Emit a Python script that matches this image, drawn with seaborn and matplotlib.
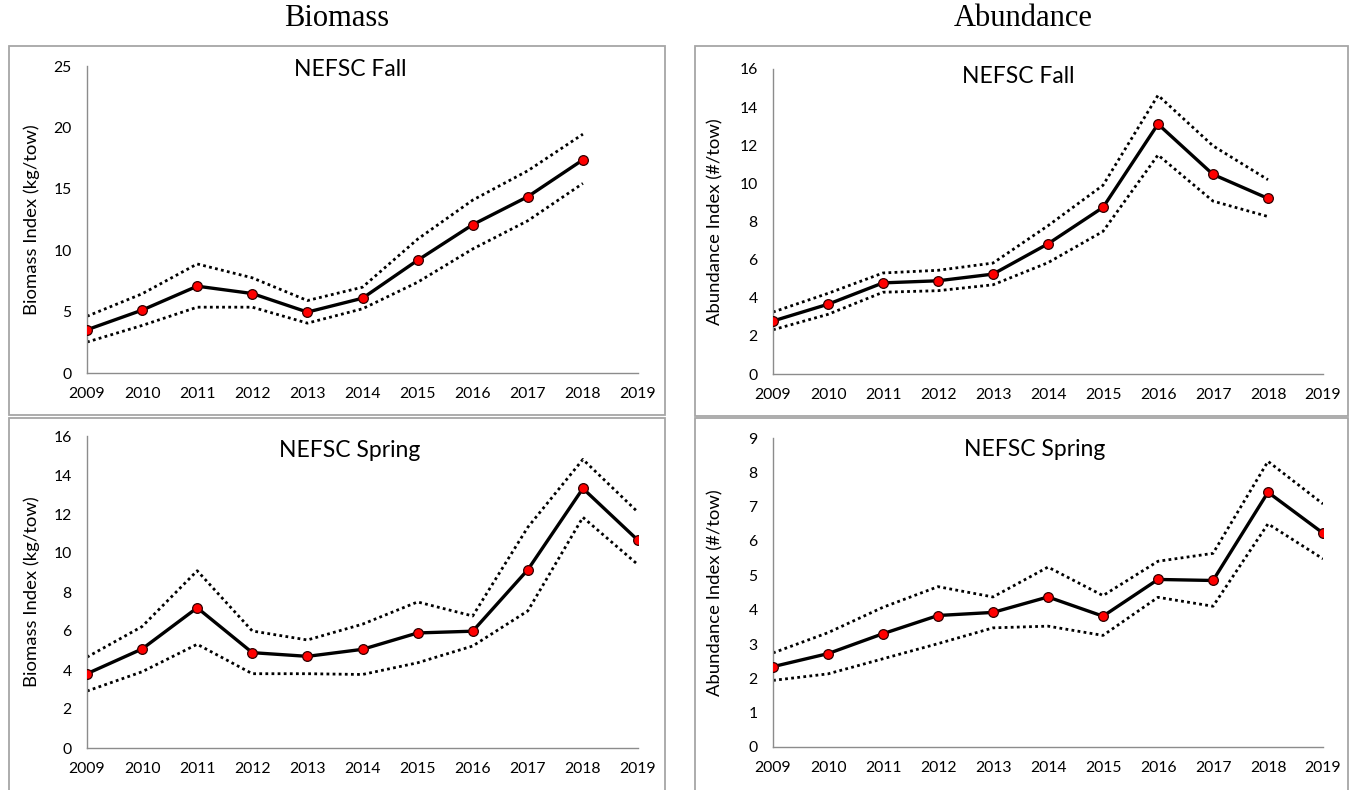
import matplotlib
matplotlib.use("Agg")
import matplotlib.pyplot as plt
import seaborn as sns
import pandas as pd
from matplotlib.patches import Rectangle

# ---------------- data ----------------
years_fall = [2009, 2010, 2011, 2012, 2013, 2014, 2015, 2016, 2017, 2018]
years_spring = [2009, 2010, 2011, 2012, 2013, 2014, 2015, 2016, 2017, 2018, 2019]

bio_fall = [3.52, 5.12, 7.07, 6.47, 4.96, 6.09, 9.18, 12.08, 14.36, 17.36]
bio_fall_hi = [4.62, 6.45, 8.88, 7.75, 5.90, 6.99, 10.90, 14.08, 16.47, 19.45]
bio_fall_lo = [2.52, 3.87, 5.36, 5.36, 4.06, 5.23, 7.39, 10.10, 12.40, 15.44]

abu_fall = [2.78, 3.66, 4.78, 4.89, 5.24, 6.83, 8.74, 13.11, 10.47, 9.21]
abu_fall_hi = [3.25, 4.23, 5.30, 5.44, 5.82, 7.78, 9.90, 14.62, 11.97, 10.19]
abu_fall_lo = [2.32, 3.13, 4.29, 4.37, 4.68, 5.84, 7.48, 11.49, 9.07, 8.26]

bio_spring = [3.81, 5.08, 7.19, 4.89, 4.70, 5.06, 5.90, 5.99, 9.14, 13.31, 10.65]
bio_spring_hi = [4.66, 6.23, 9.09, 6.00, 5.54, 6.35, 7.49, 6.77, 11.32, 14.80, 12.09]
bio_spring_lo = [2.92, 3.91, 5.32, 3.81, 3.81, 3.77, 4.37, 5.23, 7.03, 11.83, 9.40]

abu_spring = [2.34, 2.72, 3.30, 3.83, 3.92, 4.37, 3.81, 4.88, 4.85, 7.42, 6.23]
abu_spring_hi = [2.74, 3.33, 4.07, 4.67, 4.37, 5.24, 4.41, 5.41, 5.64, 8.32, 7.08]
abu_spring_lo = [1.94, 2.13, 2.57, 3.01, 3.47, 3.52, 3.25, 4.36, 4.10, 6.50, 5.48]

col_titles = ["Biomass", "Abundance"]
panel_titles = ["NEFSC Fall", "NEFSC Fall", "NEFSC Spring", "NEFSC Spring"]
ylabels = ["Biomass Index (kg/tow)", "Abundance Index (#/tow)",
           "Biomass Index (kg/tow)", "Abundance Index (#/tow)"]
xticks = list(range(2009, 2020))

# ---------------- style ----------------
sns.set_style("white")
plt.rcParams["font.family"] = ["Lato", "DejaVu Sans"]

W, H = 1357, 790
fig = plt.figure(figsize=(W / 100, H / 100), dpi=100)

def fx(px):
    return px / W

def fy(py):
    return 1 - py / H

# panel boxes (pixel coords: x0, y0, x1, y1)
boxes = [(9, 46, 665, 415), (695, 46, 1348, 416), (9, 418, 665, 800), (695, 418, 1348, 800)]
for (x0, y0, x1, y1) in boxes:
    fig.patches.append(Rectangle((fx(x0), fy(y1)), fx(x1 - x0), (y1 - y0) / H,
                                 transform=fig.transFigure, fill=False,
                                 edgecolor="#a6a6a6", linewidth=1.3, zorder=0))

# axes (pixel coords: left, top, right, bottom)
axes_px = [(87, 66, 638, 373), (773, 69, 1323, 374), (87, 436, 638, 748), (773, 438, 1323, 747)]
ylims = [(0, 25, 5), (0, 16, 2), (0, 16, 2), (0, 9, 1)]
title_pos = [(0.477, 0.987), (0.445, 0.977), (0.477, 0.955), (0.476, 0.964)]
series = [
    (years_fall, bio_fall, bio_fall_hi, bio_fall_lo),
    (years_fall, abu_fall, abu_fall_hi, abu_fall_lo),
    (years_spring, bio_spring, bio_spring_hi, bio_spring_lo),
    (years_spring, abu_spring, abu_spring_hi, abu_spring_lo),
]
ylabel_x = [-0.085, -0.091, -0.085, -0.091]

for i, (l, t, r, b) in enumerate(axes_px):
    ax = fig.add_axes([fx(l), fy(b), fx(r - l), (b - t) / H])
    yrs, mid, hi, lo = series[i]
    df = pd.DataFrame({"year": yrs, "mid": mid, "hi": hi, "lo": lo})
    for col in ["hi", "lo"]:
        sns.lineplot(data=df, x="year", y=col, ax=ax, color="black",
                     linewidth=2.0, linestyle=(0, (1.0, 1.2)), zorder=2)
    sns.lineplot(data=df, x="year", y="mid", ax=ax, color="black",
                 linewidth=2.4, marker="o", markersize=7,
                 markerfacecolor="#ff0000", markeredgecolor="#300000",
                 markeredgewidth=0.9, zorder=3)
    y0, y1, ys = ylims[i]
    ax.set_xlim(2009, 2019)
    ax.set_ylim(y0, y1)
    ax.set_xticks(xticks)
    ax.set_yticks(list(range(y0, y1 + 1, ys)))
    ax.set_xlabel("")
    ax.set_ylabel(ylabels[i], fontsize=13.3, color="black")
    ax.yaxis.set_label_coords(ylabel_x[i], 0.5)
    for s in ["top", "right"]:
        ax.spines[s].set_visible(False)
    for s in ["left", "bottom"]:
        ax.spines[s].set_color("#8c8c8c")
        ax.spines[s].set_linewidth(1.0)
    ax.tick_params(axis="both", which="major", direction="out", length=4,
                   width=1.0, color="#8c8c8c", labelsize=11.3, labelcolor="black")
    ax.tick_params(axis="y", pad=7)
    ax.tick_params(axis="x", pad=6)
    ax.patch.set_alpha(0)
    tx, ty = title_pos[i]
    ax.text(tx, ty, panel_titles[i], transform=ax.transAxes, ha="center",
            va="center", fontsize=16.5, color="black")

fig.text(fx(337), fy(19), col_titles[0], ha="center", va="center",
         fontsize=22, color="black", family=["Liberation Serif", "DejaVu Serif"])
fig.text(fx(1023), fy(19), col_titles[1], ha="center", va="center",
         fontsize=22, color="black", family=["Liberation Serif", "DejaVu Serif"])

fig.savefig("out.png", dpi=100)
